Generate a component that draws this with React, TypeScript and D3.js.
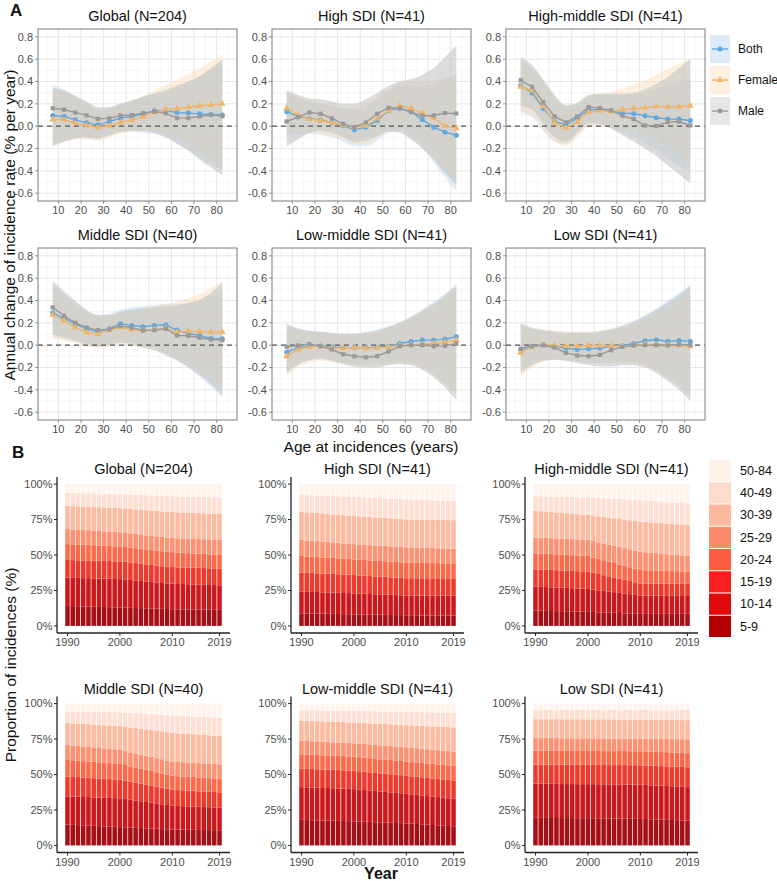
import React from 'react';
import * as d3 from 'd3';

const FONT = '"Liberation Sans", Arial, Helvetica, sans-serif';

// ---------- Panel A data ----------
const AGES = [7.5, 12.5, 17.5, 22.5, 27.5, 32.5, 37.5, 42.5, 47.5, 52.5, 57.5, 62.5, 67.5, 72.5, 77.5, 82.5];
const REGIONS = ['Global (N=204)', 'High SDI (N=41)', 'High-middle SDI (N=41)', 'Middle SDI (N=40)', 'Low-middle SDI (N=41)', 'Low SDI (N=41)'];
const SEXES = ['Both', 'Female', 'Male'];
const A_X_TICKS = [10, 20, 30, 40, 50, 60, 70, 80];
const A_X_MINOR = [5, 15, 25, 35, 45, 55, 65, 75, 85];
const A_Y_TICKS = [-0.6, -0.4, -0.2, 0, 0.2, 0.4, 0.6, 0.8];
const A_Y_MINOR = [-0.5, -0.3, -0.1, 0.1, 0.3, 0.5, 0.7];

const GLOBAL_BOTH = [0.096, 0.087, 0.057, 0.030, 0.012, 0.040, 0.072, 0.087, 0.110, 0.138, 0.138, 0.123, 0.117, 0.110, 0.105, 0.100];
const GLOBAL_FEMALE = [0.060, 0.057, 0.027, 0.006, -0.012, 0.003, 0.033, 0.057, 0.087, 0.123, 0.147, 0.156, 0.170, 0.183, 0.190, 0.200];
const GLOBAL_MALE = [0.160, 0.147, 0.123, 0.096, 0.066, 0.070, 0.096, 0.100, 0.117, 0.130, 0.115, 0.072, 0.072, 0.087, 0.100, 0.090];
const GLOBAL_BOTH_LO = [-0.16, -0.13, -0.11, -0.11, -0.12, -0.09, -0.06, -0.05, -0.06, -0.07, -0.10, -0.15, -0.21, -0.28, -0.34, -0.39];
const GLOBAL_BOTH_HI = [0.37, 0.33, 0.27, 0.21, 0.16, 0.17, 0.20, 0.23, 0.27, 0.30, 0.33, 0.37, 0.40, 0.44, 0.50, 0.56];
const GLOBAL_FEMALE_LO = [-0.17, -0.14, -0.12, -0.12, -0.13, -0.10, -0.07, -0.05, -0.04, -0.04, -0.06, -0.10, -0.15, -0.22, -0.30, -0.38];
const GLOBAL_FEMALE_HI = [0.33, 0.30, 0.25, 0.19, 0.14, 0.15, 0.18, 0.22, 0.27, 0.32, 0.37, 0.42, 0.47, 0.52, 0.58, 0.64];
const GLOBAL_MALE_LO = [-0.18, -0.14, -0.11, -0.10, -0.11, -0.08, -0.05, -0.04, -0.04, -0.06, -0.10, -0.16, -0.22, -0.30, -0.37, -0.44];
const GLOBAL_MALE_HI = [0.34, 0.32, 0.27, 0.22, 0.17, 0.17, 0.20, 0.23, 0.26, 0.29, 0.32, 0.36, 0.40, 0.45, 0.52, 0.60];

const HIGH_BOTH = [0.130, 0.087, 0.069, 0.054, 0.033, 0.003, -0.033, -0.009, 0.051, 0.141, 0.160, 0.130, 0.057, -0.009, -0.054, -0.081];
const HIGH_FEMALE = [0.160, 0.100, 0.063, 0.051, 0.033, 0.009, -0.009, 0.003, 0.069, 0.141, 0.183, 0.162, 0.117, 0.072, 0.003, -0.018];
const HIGH_MALE = [0.042, 0.081, 0.123, 0.111, 0.069, 0.021, -0.009, 0.033, 0.111, 0.165, 0.160, 0.126, 0.093, 0.096, 0.117, 0.114];
const HIGH_BOTH_LO = [-0.08, -0.08, -0.07, -0.08, -0.10, -0.14, -0.18, -0.18, -0.13, -0.06, -0.04, -0.10, -0.20, -0.32, -0.46, -0.58];
const HIGH_BOTH_HI = [0.30, 0.25, 0.22, 0.20, 0.18, 0.16, 0.14, 0.17, 0.24, 0.32, 0.36, 0.36, 0.36, 0.38, 0.42, 0.46];
const HIGH_FEMALE_LO = [-0.06, -0.06, -0.06, -0.07, -0.09, -0.12, -0.16, -0.16, -0.11, -0.04, -0.02, -0.07, -0.16, -0.27, -0.38, -0.50];
const HIGH_FEMALE_HI = [0.31, 0.27, 0.23, 0.21, 0.19, 0.17, 0.16, 0.19, 0.26, 0.34, 0.39, 0.40, 0.40, 0.41, 0.43, 0.45];
const HIGH_MALE_LO = [-0.18, -0.12, -0.06, -0.04, -0.06, -0.10, -0.14, -0.13, -0.09, -0.05, -0.06, -0.12, -0.20, -0.30, -0.42, -0.53];
const HIGH_MALE_HI = [0.32, 0.28, 0.25, 0.24, 0.22, 0.20, 0.20, 0.24, 0.30, 0.36, 0.40, 0.42, 0.46, 0.52, 0.62, 0.72];

const HIGHMID_BOTH = [0.364, 0.298, 0.159, 0.042, 0.012, 0.072, 0.147, 0.147, 0.138, 0.117, 0.111, 0.093, 0.075, 0.063, 0.063, 0.051];
const HIGHMID_FEMALE = [0.352, 0.322, 0.177, 0.033, -0.015, 0.039, 0.126, 0.138, 0.132, 0.147, 0.159, 0.165, 0.177, 0.174, 0.174, 0.183];
const HIGHMID_MALE = [0.412, 0.352, 0.213, 0.087, 0.033, 0.087, 0.171, 0.162, 0.141, 0.093, 0.063, 0.006, 0.003, 0.036, 0.042, 0.006];
const HIGHMID_BOTH_LO = [0.13, 0.08, -0.04, -0.14, -0.16, -0.08, 0.01, 0.01, -0.02, -0.06, -0.10, -0.15, -0.21, -0.28, -0.35, -0.43];
const HIGHMID_BOTH_HI = [0.60, 0.52, 0.39, 0.25, 0.18, 0.20, 0.27, 0.28, 0.28, 0.28, 0.29, 0.31, 0.34, 0.37, 0.40, 0.44];
const HIGHMID_FEMALE_LO = [0.12, 0.09, -0.03, -0.14, -0.18, -0.10, -0.01, 0.00, -0.01, -0.02, -0.04, -0.07, -0.12, -0.18, -0.25, -0.32];
const HIGHMID_FEMALE_HI = [0.58, 0.52, 0.40, 0.27, 0.18, 0.20, 0.27, 0.29, 0.31, 0.34, 0.37, 0.41, 0.46, 0.51, 0.56, 0.60];
const HIGHMID_MALE_LO = [0.18, 0.15, 0.02, -0.10, -0.14, -0.06, 0.03, 0.02, -0.02, -0.08, -0.14, -0.20, -0.27, -0.35, -0.43, -0.51];
const HIGHMID_MALE_HI = [0.62, 0.55, 0.42, 0.28, 0.19, 0.21, 0.28, 0.29, 0.29, 0.29, 0.30, 0.33, 0.38, 0.44, 0.52, 0.60];

const MID_BOTH = [0.290, 0.240, 0.190, 0.144, 0.123, 0.147, 0.192, 0.177, 0.165, 0.177, 0.180, 0.135, 0.105, 0.087, 0.060, 0.057];
const MID_FEMALE = [0.272, 0.219, 0.159, 0.114, 0.099, 0.135, 0.159, 0.141, 0.129, 0.141, 0.153, 0.117, 0.126, 0.123, 0.117, 0.117];
const MID_MALE = [0.338, 0.263, 0.200, 0.159, 0.135, 0.141, 0.171, 0.156, 0.132, 0.135, 0.147, 0.087, 0.084, 0.066, 0.051, 0.045];
const MID_BOTH_LO = [0.07, 0.05, 0.03, 0.00, -0.02, 0.00, 0.03, 0.02, 0.00, -0.03, -0.07, -0.13, -0.20, -0.28, -0.37, -0.47];
const MID_BOTH_HI = [0.58, 0.49, 0.40, 0.32, 0.27, 0.28, 0.32, 0.34, 0.35, 0.36, 0.37, 0.37, 0.38, 0.40, 0.44, 0.50];
const MID_FEMALE_LO = [0.06, 0.04, 0.02, -0.01, -0.03, -0.01, 0.01, 0.00, -0.02, -0.04, -0.07, -0.11, -0.16, -0.22, -0.30, -0.38];
const MID_FEMALE_HI = [0.52, 0.44, 0.36, 0.29, 0.25, 0.26, 0.29, 0.31, 0.33, 0.35, 0.37, 0.39, 0.42, 0.46, 0.51, 0.57];
const MID_MALE_LO = [0.10, 0.07, 0.04, 0.01, -0.01, 0.00, 0.02, 0.01, -0.02, -0.05, -0.09, -0.14, -0.20, -0.27, -0.35, -0.45];
const MID_MALE_HI = [0.56, 0.47, 0.39, 0.31, 0.27, 0.27, 0.30, 0.32, 0.33, 0.34, 0.35, 0.36, 0.38, 0.41, 0.47, 0.56];

const LOWMID_BOTH = [-0.063, -0.024, -0.009, -0.006, -0.015, -0.024, -0.024, -0.024, -0.021, -0.009, 0.015, 0.033, 0.045, 0.045, 0.054, 0.075];
const LOWMID_FEMALE = [-0.099, -0.039, -0.015, -0.009, -0.024, -0.027, -0.021, -0.027, -0.024, -0.015, -0.003, 0.003, 0.009, 0.015, 0.027, 0.045];
const LOWMID_MALE = [-0.015, -0.003, 0.009, -0.009, -0.039, -0.081, -0.099, -0.108, -0.099, -0.057, -0.009, 0.0, 0.0, -0.009, -0.006, 0.015];
const LOWMID_BOTH_LO = [-0.26, -0.18, -0.14, -0.13, -0.14, -0.16, -0.17, -0.17, -0.17, -0.16, -0.15, -0.16, -0.20, -0.26, -0.34, -0.44];
const LOWMID_BOTH_HI = [0.18, 0.15, 0.13, 0.12, 0.11, 0.11, 0.11, 0.12, 0.14, 0.17, 0.21, 0.26, 0.32, 0.39, 0.46, 0.55];
const LOWMID_FEMALE_LO = [-0.27, -0.20, -0.16, -0.14, -0.15, -0.17, -0.18, -0.18, -0.18, -0.17, -0.16, -0.17, -0.21, -0.27, -0.35, -0.44];
const LOWMID_FEMALE_HI = [0.16, 0.13, 0.12, 0.11, 0.10, 0.10, 0.10, 0.11, 0.12, 0.15, 0.19, 0.24, 0.29, 0.35, 0.42, 0.50];
const LOWMID_MALE_LO = [-0.24, -0.17, -0.13, -0.12, -0.14, -0.17, -0.19, -0.20, -0.20, -0.18, -0.17, -0.18, -0.22, -0.29, -0.38, -0.49];
const LOWMID_MALE_HI = [0.19, 0.15, 0.13, 0.12, 0.11, 0.10, 0.10, 0.11, 0.13, 0.16, 0.20, 0.25, 0.31, 0.37, 0.45, 0.53];

const LOW_BOTH = [-0.039, -0.009, 0.003, -0.009, -0.027, -0.039, -0.033, -0.027, -0.009, -0.003, 0.015, 0.039, 0.048, 0.036, 0.042, 0.036];
const LOW_FEMALE = [-0.069, -0.015, 0.003, -0.003, -0.009, -0.009, -0.003, -0.003, -0.006, -0.009, -0.003, 0.006, 0.003, 0.003, -0.003, -0.009];
const LOW_MALE = [-0.033, -0.009, -0.003, -0.021, -0.069, -0.093, -0.099, -0.087, -0.045, -0.015, -0.003, 0.0, 0.0, -0.003, 0.006, 0.003];
const LOW_BOTH_LO = [-0.23, -0.17, -0.14, -0.13, -0.14, -0.15, -0.16, -0.16, -0.16, -0.15, -0.15, -0.17, -0.22, -0.29, -0.37, -0.46];
const LOW_BOTH_HI = [0.20, 0.16, 0.14, 0.13, 0.12, 0.12, 0.12, 0.13, 0.15, 0.18, 0.22, 0.27, 0.33, 0.40, 0.47, 0.54];
const LOW_FEMALE_LO = [-0.28, -0.20, -0.15, -0.13, -0.13, -0.14, -0.15, -0.16, -0.16, -0.16, -0.17, -0.19, -0.23, -0.29, -0.36, -0.44];
const LOW_FEMALE_HI = [0.18, 0.15, 0.14, 0.13, 0.12, 0.12, 0.12, 0.13, 0.14, 0.16, 0.19, 0.23, 0.28, 0.33, 0.39, 0.45];
const LOW_MALE_LO = [-0.25, -0.18, -0.14, -0.13, -0.14, -0.16, -0.18, -0.19, -0.19, -0.18, -0.18, -0.20, -0.25, -0.32, -0.40, -0.50];
const LOW_MALE_HI = [0.19, 0.15, 0.13, 0.12, 0.11, 0.11, 0.11, 0.12, 0.14, 0.17, 0.21, 0.26, 0.32, 0.38, 0.45, 0.53];

const A_TABLE = [
  { mean: [GLOBAL_BOTH, GLOBAL_FEMALE, GLOBAL_MALE], lo: [GLOBAL_BOTH_LO, GLOBAL_FEMALE_LO, GLOBAL_MALE_LO], hi: [GLOBAL_BOTH_HI, GLOBAL_FEMALE_HI, GLOBAL_MALE_HI] },
  { mean: [HIGH_BOTH, HIGH_FEMALE, HIGH_MALE], lo: [HIGH_BOTH_LO, HIGH_FEMALE_LO, HIGH_MALE_LO], hi: [HIGH_BOTH_HI, HIGH_FEMALE_HI, HIGH_MALE_HI] },
  { mean: [HIGHMID_BOTH, HIGHMID_FEMALE, HIGHMID_MALE], lo: [HIGHMID_BOTH_LO, HIGHMID_FEMALE_LO, HIGHMID_MALE_LO], hi: [HIGHMID_BOTH_HI, HIGHMID_FEMALE_HI, HIGHMID_MALE_HI] },
  { mean: [MID_BOTH, MID_FEMALE, MID_MALE], lo: [MID_BOTH_LO, MID_FEMALE_LO, MID_MALE_LO], hi: [MID_BOTH_HI, MID_FEMALE_HI, MID_MALE_HI] },
  { mean: [LOWMID_BOTH, LOWMID_FEMALE, LOWMID_MALE], lo: [LOWMID_BOTH_LO, LOWMID_FEMALE_LO, LOWMID_MALE_LO], hi: [LOWMID_BOTH_HI, LOWMID_FEMALE_HI, LOWMID_MALE_HI] },
  { mean: [LOW_BOTH, LOW_FEMALE, LOW_MALE], lo: [LOW_BOTH_LO, LOW_FEMALE_LO, LOW_MALE_LO], hi: [LOW_BOTH_HI, LOW_FEMALE_HI, LOW_MALE_HI] },
];

// ---------- Panel B data ----------
const YEARS = [1990, 1991, 1992, 1993, 1994, 1995, 1996, 1997, 1998, 1999, 2000, 2001, 2002, 2003, 2004, 2005, 2006, 2007, 2008, 2009, 2010, 2011, 2012, 2013, 2014, 2015, 2016, 2017, 2018, 2019];
const B_X_TICKS = [1990, 2000, 2010, 2019];
const B_Y_TICKS = [0, 0.25, 0.5, 0.75, 1];
const AGE_GROUPS = ['5-9', '10-14', '15-19', '20-24', '25-29', '30-39', '40-49', '50-84'];

// share (%) of incidences by age group (rows) and year (columns)
const B_GLOBAL = [
  [14.1, 14.0, 13.9, 13.8, 13.7, 13.6, 13.4, 13.3, 13.2, 13.1, 13.0, 12.9, 12.8, 12.6, 12.5, 12.4, 12.3, 12.2, 12.0, 11.9, 11.8, 11.7, 11.7, 11.6, 11.6, 11.5, 11.5, 11.4, 11.4, 11.3],
  [19.9, 19.9, 19.9, 19.9, 20.0, 20.0, 20.0, 20.0, 20.0, 20.0, 20.0, 19.9, 19.7, 19.4, 19.1, 18.9, 18.6, 18.4, 18.2, 18.1, 18.0, 17.9, 17.8, 17.8, 17.7, 17.6, 17.5, 17.5, 17.4, 17.3],
  [12.5, 12.5, 12.5, 12.5, 12.5, 12.5, 12.5, 12.5, 12.5, 12.5, 12.5, 12.4, 12.4, 12.3, 12.2, 12.1, 12.0, 11.9, 11.8, 11.8, 11.7, 11.7, 11.7, 11.7, 11.7, 11.8, 11.8, 11.8, 11.8, 11.8],
  [11.2, 11.1, 11.1, 11.0, 10.9, 10.9, 10.8, 10.7, 10.6, 10.6, 10.5, 10.5, 10.5, 10.5, 10.5, 10.5, 10.5, 10.5, 10.5, 10.5, 10.5, 10.4, 10.3, 10.2, 10.1, 10.0, 9.9, 9.8, 9.7, 9.6],
  [10.6, 10.5, 10.5, 10.4, 10.4, 10.3, 10.2, 10.2, 10.1, 10.1, 10.0, 10.0, 10.0, 10.0, 10.0, 10.0, 10.0, 10.0, 10.0, 10.0, 10.0, 10.1, 10.1, 10.2, 10.3, 10.3, 10.4, 10.5, 10.5, 10.6],
  [16.4, 16.5, 16.5, 16.6, 16.6, 16.7, 16.8, 16.8, 16.9, 16.9, 17.0, 17.1, 17.3, 17.4, 17.5, 17.7, 17.8, 17.9, 18.0, 18.2, 18.3, 18.3, 18.3, 18.3, 18.3, 18.3, 18.3, 18.3, 18.3, 18.3],
  [9.2, 9.3, 9.4, 9.4, 9.5, 9.6, 9.7, 9.8, 9.8, 9.9, 10.0, 10.1, 10.2, 10.3, 10.4, 10.6, 10.7, 10.8, 10.9, 11.0, 11.1, 11.2, 11.2, 11.3, 11.4, 11.4, 11.5, 11.6, 11.6, 11.7],
  [6.1, 6.2, 6.3, 6.4, 6.4, 6.5, 6.6, 6.7, 6.8, 6.9, 7.0, 7.2, 7.3, 7.5, 7.6, 7.8, 8.0, 8.1, 8.3, 8.4, 8.6, 8.7, 8.8, 8.9, 9.0, 9.0, 9.1, 9.2, 9.3, 9.4],
];
const B_HIGH = [
  [8.9, 8.8, 8.8, 8.7, 8.6, 8.6, 8.5, 8.4, 8.3, 8.3, 8.2, 8.1, 8.1, 8.0, 7.9, 7.9, 7.8, 7.7, 7.6, 7.6, 7.5, 7.5, 7.5, 7.4, 7.4, 7.4, 7.4, 7.3, 7.3, 7.3],
  [15.3, 15.2, 15.2, 15.2, 15.1, 15.1, 15.0, 15.0, 14.9, 14.9, 14.8, 14.7, 14.6, 14.5, 14.4, 14.4, 14.3, 14.2, 14.1, 14.0, 13.9, 13.9, 13.9, 14.0, 14.0, 14.0, 14.0, 14.1, 14.1, 14.1],
  [13.4, 13.3, 13.3, 13.2, 13.2, 13.2, 13.1, 13.1, 13.0, 13.0, 12.9, 12.8, 12.8, 12.7, 12.6, 12.6, 12.5, 12.4, 12.3, 12.3, 12.2, 12.2, 12.2, 12.2, 12.2, 12.2, 12.2, 12.2, 12.2, 12.2],
  [11.7, 11.6, 11.6, 11.5, 11.4, 11.4, 11.3, 11.2, 11.1, 11.1, 11.0, 11.0, 11.0, 11.0, 11.0, 11.0, 11.0, 11.0, 11.0, 11.0, 11.0, 10.9, 10.9, 10.8, 10.8, 10.7, 10.7, 10.6, 10.6, 10.5],
  [11.3, 11.2, 11.2, 11.2, 11.1, 11.1, 11.0, 11.0, 10.9, 10.9, 10.8, 10.8, 10.8, 10.8, 10.8, 10.8, 10.8, 10.8, 10.8, 10.8, 10.8, 10.8, 10.7, 10.7, 10.6, 10.6, 10.5, 10.5, 10.4, 10.4],
  [19.9, 19.9, 19.9, 19.9, 19.9, 19.9, 19.8, 19.8, 19.8, 19.8, 19.8, 19.8, 19.8, 19.8, 19.8, 19.8, 19.7, 19.7, 19.7, 19.7, 19.7, 19.7, 19.8, 19.8, 19.9, 19.9, 20.0, 20.0, 20.1, 20.1],
  [11.8, 12.0, 12.2, 12.3, 12.5, 12.7, 12.9, 13.1, 13.2, 13.4, 13.6, 13.7, 13.7, 13.8, 13.8, 13.9, 13.9, 14.0, 14.0, 14.1, 14.1, 14.0, 13.9, 13.9, 13.8, 13.7, 13.6, 13.6, 13.5, 13.4],
  [7.7, 7.8, 7.9, 8.1, 8.2, 8.3, 8.4, 8.5, 8.7, 8.8, 8.9, 9.1, 9.3, 9.5, 9.7, 9.9, 10.0, 10.2, 10.4, 10.6, 10.8, 10.9, 11.1, 11.2, 11.3, 11.5, 11.6, 11.7, 11.9, 12.0],
];
const B_HIGHMID = [
  [10.8, 10.7, 10.6, 10.5, 10.4, 10.4, 10.3, 10.2, 10.1, 10.0, 9.9, 9.8, 9.6, 9.5, 9.3, 9.2, 9.1, 8.9, 8.8, 8.6, 8.5, 8.5, 8.5, 8.5, 8.5, 8.5, 8.5, 8.5, 8.5, 8.5],
  [16.9, 16.8, 16.8, 16.7, 16.6, 16.6, 16.5, 16.4, 16.3, 16.3, 16.2, 15.9, 15.5, 15.2, 14.9, 14.6, 14.2, 13.9, 13.6, 13.2, 12.9, 12.9, 12.8, 12.8, 12.8, 12.7, 12.7, 12.7, 12.6, 12.6],
  [12.2, 12.2, 12.2, 12.2, 12.2, 12.2, 12.2, 12.2, 12.2, 12.2, 12.2, 11.8, 11.5, 11.1, 10.8, 10.4, 10.0, 9.7, 9.3, 9.0, 8.6, 8.6, 8.6, 8.6, 8.6, 8.6, 8.5, 8.5, 8.5, 8.5],
  [11.3, 11.3, 11.2, 11.2, 11.2, 11.2, 11.1, 11.1, 11.1, 11.0, 11.0, 10.8, 10.7, 10.5, 10.4, 10.2, 10.0, 9.9, 9.7, 9.6, 9.4, 9.3, 9.3, 9.2, 9.1, 9.0, 8.9, 8.9, 8.8, 8.7],
  [11.2, 11.2, 11.2, 11.2, 11.2, 11.2, 11.3, 11.3, 11.3, 11.3, 11.3, 11.5, 11.6, 11.8, 12.0, 12.1, 12.3, 12.4, 12.6, 12.7, 12.9, 12.7, 12.5, 12.3, 12.1, 11.9, 11.6, 11.4, 11.2, 11.0],
  [18.8, 18.7, 18.6, 18.4, 18.3, 18.2, 18.1, 18.0, 17.8, 17.7, 17.6, 18.0, 18.3, 18.7, 19.0, 19.4, 19.8, 20.1, 20.5, 20.8, 21.2, 21.3, 21.3, 21.4, 21.5, 21.5, 21.6, 21.7, 21.7, 21.8],
  [10.3, 10.5, 10.7, 10.9, 11.1, 11.4, 11.6, 11.8, 12.0, 12.2, 12.4, 12.7, 13.0, 13.2, 13.5, 13.8, 14.1, 14.4, 14.6, 14.9, 15.2, 15.2, 15.2, 15.2, 15.2, 15.3, 15.3, 15.3, 15.3, 15.3],
  [8.5, 8.6, 8.7, 8.8, 8.9, 9.0, 9.0, 9.1, 9.2, 9.3, 9.4, 9.6, 9.8, 10.0, 10.2, 10.4, 10.5, 10.7, 10.9, 11.1, 11.3, 11.6, 11.8, 12.1, 12.3, 12.6, 12.8, 13.1, 13.3, 13.6],
];
const B_MID = [
  [14.7, 14.5, 14.3, 14.2, 14.0, 13.8, 13.6, 13.4, 13.3, 13.1, 12.9, 12.7, 12.6, 12.4, 12.2, 12.1, 11.9, 11.7, 11.5, 11.4, 11.2, 11.1, 11.1, 11.0, 11.0, 10.9, 10.9, 10.8, 10.8, 10.7],
  [19.9, 19.9, 20.0, 20.0, 20.1, 20.1, 20.1, 20.2, 20.2, 20.3, 20.3, 20.0, 19.6, 19.3, 18.9, 18.6, 18.2, 17.9, 17.5, 17.2, 16.8, 16.7, 16.6, 16.5, 16.4, 16.3, 16.2, 16.1, 16.0, 15.9],
  [14.0, 13.9, 13.8, 13.7, 13.6, 13.6, 13.5, 13.4, 13.3, 13.2, 13.1, 12.9, 12.7, 12.6, 12.4, 12.2, 12.0, 11.8, 11.7, 11.5, 11.3, 11.2, 11.2, 11.1, 11.1, 11.0, 11.0, 10.9, 10.9, 10.8],
  [11.7, 11.7, 11.6, 11.6, 11.5, 11.5, 11.4, 11.4, 11.3, 11.3, 11.2, 11.1, 10.9, 10.8, 10.6, 10.5, 10.4, 10.2, 10.1, 9.9, 9.8, 9.8, 9.8, 9.7, 9.7, 9.7, 9.7, 9.6, 9.6, 9.6],
  [10.5, 10.4, 10.4, 10.3, 10.2, 10.2, 10.1, 10.0, 9.9, 9.9, 9.8, 9.8, 9.8, 9.9, 9.9, 9.9, 9.9, 9.9, 10.0, 10.0, 10.0, 10.0, 10.0, 10.1, 10.1, 10.1, 10.1, 10.2, 10.2, 10.2],
  [15.6, 15.7, 15.8, 16.0, 16.1, 16.2, 16.3, 16.4, 16.6, 16.7, 16.8, 17.2, 17.5, 17.9, 18.2, 18.6, 18.9, 19.3, 19.6, 20.0, 20.3, 20.3, 20.2, 20.2, 20.1, 20.1, 20.1, 20.0, 20.0, 19.9],
  [8.2, 8.4, 8.5, 8.7, 8.8, 9.0, 9.2, 9.3, 9.5, 9.6, 9.8, 10.0, 10.3, 10.5, 10.8, 11.0, 11.2, 11.5, 11.7, 12.0, 12.2, 12.3, 12.4, 12.4, 12.5, 12.6, 12.7, 12.7, 12.8, 12.9],
  [5.4, 5.5, 5.5, 5.6, 5.7, 5.8, 5.8, 5.9, 6.0, 6.0, 6.1, 6.3, 6.6, 6.8, 7.0, 7.3, 7.5, 7.7, 7.9, 8.2, 8.4, 8.6, 8.8, 8.9, 9.1, 9.3, 9.5, 9.6, 9.8, 10.0],
];
const B_LOWMID = [
  [18.0, 17.9, 17.8, 17.7, 17.6, 17.5, 17.4, 17.3, 17.2, 17.1, 17.0, 16.9, 16.7, 16.6, 16.4, 16.3, 16.1, 16.0, 15.8, 15.7, 15.5, 15.3, 15.1, 14.9, 14.6, 14.4, 14.2, 13.9, 13.7, 13.5],
  [23.1, 23.1, 23.0, 23.0, 22.9, 22.9, 22.9, 22.8, 22.8, 22.7, 22.7, 22.5, 22.3, 22.2, 22.0, 21.8, 21.6, 21.4, 21.3, 21.1, 20.9, 20.7, 20.6, 20.4, 20.2, 20.1, 19.9, 19.7, 19.6, 19.4],
  [13.1, 13.1, 13.1, 13.0, 13.0, 13.0, 13.0, 13.0, 12.9, 12.9, 12.9, 12.9, 12.9, 12.8, 12.8, 12.8, 12.8, 12.8, 12.7, 12.7, 12.7, 12.7, 12.7, 12.8, 12.8, 12.8, 12.8, 12.9, 12.9, 12.9],
  [10.1, 10.1, 10.1, 10.1, 10.1, 10.0, 10.0, 10.0, 10.0, 10.0, 10.0, 10.0, 10.0, 10.0, 10.0, 10.0, 10.0, 10.0, 10.0, 10.0, 10.0, 10.0, 10.1, 10.1, 10.1, 10.2, 10.2, 10.2, 10.3, 10.3],
  [9.5, 9.5, 9.5, 9.5, 9.5, 9.4, 9.4, 9.4, 9.4, 9.4, 9.4, 9.5, 9.5, 9.6, 9.7, 9.8, 9.8, 9.9, 10.0, 10.0, 10.1, 10.1, 10.1, 10.1, 10.1, 10.0, 10.0, 10.0, 10.0, 10.0],
  [14.1, 14.2, 14.2, 14.3, 14.3, 14.4, 14.5, 14.5, 14.6, 14.6, 14.7, 14.8, 14.9, 15.0, 15.1, 15.2, 15.2, 15.3, 15.4, 15.5, 15.6, 15.8, 15.9, 16.1, 16.3, 16.4, 16.6, 16.8, 16.9, 17.1],
  [7.4, 7.5, 7.6, 7.6, 7.7, 7.8, 7.9, 8.0, 8.0, 8.1, 8.2, 8.3, 8.4, 8.6, 8.7, 8.8, 8.9, 9.0, 9.2, 9.3, 9.4, 9.5, 9.6, 9.7, 9.8, 9.9, 10.0, 10.1, 10.2, 10.3],
  [4.7, 4.7, 4.8, 4.8, 4.9, 4.9, 4.9, 5.0, 5.0, 5.1, 5.1, 5.2, 5.2, 5.3, 5.4, 5.5, 5.5, 5.6, 5.7, 5.7, 5.8, 5.9, 6.0, 6.0, 6.1, 6.2, 6.3, 6.3, 6.4, 6.5],
];
const B_LOW = [
  [19.4, 19.4, 19.4, 19.3, 19.3, 19.3, 19.3, 19.3, 19.2, 19.2, 19.2, 19.2, 19.1, 19.1, 19.0, 19.0, 18.9, 18.9, 18.8, 18.8, 18.7, 18.6, 18.4, 18.3, 18.2, 18.0, 17.9, 17.8, 17.6, 17.5],
  [24.1, 24.1, 24.1, 24.1, 24.1, 24.0, 24.0, 24.0, 24.0, 24.0, 24.0, 24.0, 24.0, 24.0, 24.0, 24.0, 24.1, 24.1, 24.1, 24.1, 24.1, 24.0, 24.0, 23.9, 23.9, 23.8, 23.8, 23.7, 23.7, 23.6],
  [13.5, 13.5, 13.5, 13.5, 13.5, 13.6, 13.6, 13.6, 13.6, 13.6, 13.6, 13.6, 13.6, 13.6, 13.6, 13.6, 13.7, 13.7, 13.7, 13.7, 13.7, 13.7, 13.8, 13.8, 13.8, 13.9, 13.9, 13.9, 14.0, 14.0],
  [9.8, 9.8, 9.8, 9.8, 9.8, 9.8, 9.8, 9.8, 9.8, 9.8, 9.8, 9.8, 9.8, 9.8, 9.8, 9.8, 9.9, 9.9, 9.9, 9.9, 9.9, 9.9, 9.9, 9.9, 9.9, 9.9, 9.9, 9.9, 9.9, 9.9],
  [8.9, 8.9, 8.9, 8.9, 8.9, 8.9, 8.9, 8.9, 8.9, 8.9, 8.9, 8.9, 8.9, 8.9, 8.9, 8.9, 8.8, 8.8, 8.8, 8.8, 8.8, 8.9, 9.0, 9.1, 9.2, 9.3, 9.4, 9.5, 9.7, 9.8],
  [13.3, 13.3, 13.3, 13.3, 13.3, 13.4, 13.4, 13.4, 13.4, 13.4, 13.4, 13.4, 13.4, 13.5, 13.5, 13.5, 13.5, 13.5, 13.6, 13.6, 13.6, 13.6, 13.6, 13.6, 13.6, 13.5, 13.5, 13.5, 13.5, 13.5],
  [6.8, 6.8, 6.8, 6.8, 6.8, 6.9, 6.9, 6.9, 6.9, 6.9, 6.9, 6.9, 6.9, 6.9, 6.9, 6.9, 7.0, 7.0, 7.0, 7.0, 7.0, 7.0, 7.1, 7.1, 7.2, 7.2, 7.3, 7.4, 7.4, 7.5],
  [4.2, 4.2, 4.2, 4.2, 4.2, 4.2, 4.2, 4.2, 4.2, 4.2, 4.2, 4.2, 4.2, 4.2, 4.2, 4.2, 4.2, 4.2, 4.2, 4.2, 4.2, 4.2, 4.2, 4.2, 4.2, 4.2, 4.2, 4.2, 4.2, 4.2],
];
const B_TABLE = [B_GLOBAL, B_HIGH, B_HIGHMID, B_MID, B_LOWMID, B_LOW];

// ---------- styles ----------
const SEX_COLORS = ['#62a8dc', '#f0b56a', '#999999'];
const RIBBON_FILL = ['#c6dcef', '#fbd9b0', '#c4c4c4'];
const RIBBON_OPACITY = [0.5, 0.4, 0.6];
const KEY_BG = ['#dcebf7', '#fdf0e1', '#e6e6e6'];
const BAR_COLORS = ['#a50f15', '#cb181d', '#ec3a2c', '#fb6a4a', '#fc9272', '#fcbba1', '#fee0d2', '#fff3ee'];
const KEY_COLORS = ['#b00000', '#df0a0a', '#fd2020', '#fb5b3f', '#fc8b6c', '#fcb9a0', '#fddccc', '#fff1ea'];

// layout
const A_COLS = [38, 272, 506];
const A_ROWS = [29, 248];
const A_W = 199;
const A_H = 172;
const B_COLS = [57, 291, 525];
const B_ROWS = [477, 696.5];
const B_W = 173;
const B_H = 156;

const xA = d3.scaleLinear().domain([1, 89]).range([0, A_W]);
const yA = d3.scaleLinear().domain([-0.67, 0.87]).range([A_H, 0]);
const xB = d3.scaleLinear().domain([1988, 2021]).range([0, B_W]);
const yB = d3.scaleLinear().domain([-0.05, 1.05]).range([B_H, 0]);

const SYMBOLS = [d3.symbolCircle, d3.symbolTriangle, d3.symbolSquare];
const SYMBOL_SIZE = [20, 20, 18];

function PanelA({ idx }: { idx: number }) {
  const x0 = A_COLS[idx % 3];
  const y0 = A_ROWS[Math.floor(idx / 3)];
  const d = A_TABLE[idx];
  const area = d3
    .area<number>()
    .x((_, i) => xA(AGES[i]))
    .curve(d3.curveMonotoneX);
  const line = d3
    .line<number>()
    .x((_, i) => xA(AGES[i]))
    .y((v) => yA(v));
  return (
    <g transform={`translate(${x0},${y0})`}>
      <rect width={A_W} height={A_H} fill="#fff" />
      {A_X_MINOR.map((t) => (
        <line key={'xm' + t} x1={xA(t)} x2={xA(t)} y1={0} y2={A_H} stroke="#f0f0f0" strokeWidth={0.6} />
      ))}
      {A_Y_MINOR.map((t) => (
        <line key={'ym' + t} y1={yA(t)} y2={yA(t)} x1={0} x2={A_W} stroke="#f0f0f0" strokeWidth={0.6} />
      ))}
      {A_X_TICKS.map((t) => (
        <line key={'x' + t} x1={xA(t)} x2={xA(t)} y1={0} y2={A_H} stroke="#e3e3e3" strokeWidth={0.9} />
      ))}
      {A_Y_TICKS.map((t) => (
        <line key={'y' + t} y1={yA(t)} y2={yA(t)} x1={0} x2={A_W} stroke="#e3e3e3" strokeWidth={0.9} />
      ))}
      {SEXES.map((s, k) => (
        <path
          key={'rib' + s}
          d={area.y0((_, i) => yA(d.lo[k][i])).y1((_, i) => yA(d.hi[k][i]))(AGES) || ''}
          fill={RIBBON_FILL[k]}
          fillOpacity={RIBBON_OPACITY[k]}
        />
      ))}
      <line x1={0} x2={A_W} y1={yA(0)} y2={yA(0)} stroke="#555" strokeWidth={1.1} strokeDasharray="5,4" />
      {SEXES.map((s, k) => (
        <g key={'ln' + s}>
          <path d={line(d.mean[k]) || ''} fill="none" stroke={SEX_COLORS[k]} strokeWidth={1.4} />
          {d.mean[k].map((v, i) => (
            <path
              key={i}
              transform={`translate(${xA(AGES[i])},${yA(v)})`}
              d={d3.symbol().type(SYMBOLS[k]).size(SYMBOL_SIZE[k])() || ''}
              fill={SEX_COLORS[k]}
            />
          ))}
        </g>
      ))}
      <rect width={A_W} height={A_H} fill="none" stroke="#7a7a7a" strokeWidth={1} />
      {A_Y_TICKS.map((t) => (
        <g key={'yt' + t}>
          <line x1={-3} x2={0} y1={yA(t)} y2={yA(t)} stroke="#7a7a7a" strokeWidth={0.8} />
          <text x={-5} y={yA(t)} dy="0.35em" textAnchor="end" fontSize={11} fill="#4d4d4d">
            {t.toFixed(1)}
          </text>
        </g>
      ))}
      {A_X_TICKS.map((t) => (
        <g key={'xt' + t}>
          <line x1={xA(t)} x2={xA(t)} y1={A_H} y2={A_H + 3} stroke="#7a7a7a" strokeWidth={0.8} />
          <text x={xA(t)} y={A_H + 13} textAnchor="middle" fontSize={11} fill="#4d4d4d">
            {t}
          </text>
        </g>
      ))}
      <text x={A_W / 2} y={-8.5} textAnchor="middle" fontSize={14.5} fill="#111">
        {REGIONS[idx]}
      </text>
    </g>
  );
}

function PanelB({ idx }: { idx: number }) {
  const x0 = B_COLS[idx % 3];
  const y0 = B_ROWS[Math.floor(idx / 3)];
  const data = B_TABLE[idx];
  const rows = YEARS.map((yr, i) => {
    const o: any = { year: yr };
    AGE_GROUPS.forEach((g, k) => {
      o[g] = data[k][i];
    });
    return o;
  });
  const series = d3.stack<any>().keys(AGE_GROUPS).offset(d3.stackOffsetExpand)(rows);
  const bw = (xB(1) - xB(0)) * 0.86;
  return (
    <g transform={`translate(${x0},${y0})`}>
      {series.map((s, k) => (
        <g key={s.key} fill={BAR_COLORS[k]}>
          {s.map((seg, i) => (
            <rect
              key={i}
              x={xB(YEARS[i]) - bw / 2}
              width={bw}
              y={yB(seg[1])}
              height={Math.max(0, yB(seg[0]) - yB(seg[1]))}
            />
          ))}
        </g>
      ))}
      <line x1={0} x2={0} y1={0} y2={B_H} stroke="#222" strokeWidth={1.3} />
      <line x1={0} x2={B_W} y1={B_H} y2={B_H} stroke="#222" strokeWidth={1.3} />
      {B_Y_TICKS.map((t) => (
        <g key={'yt' + t}>
          <line x1={-3} x2={0} y1={yB(t)} y2={yB(t)} stroke="#222" strokeWidth={1} />
          <text x={-4.5} y={yB(t)} dy="0.35em" textAnchor="end" fontSize={11} fill="#4d4d4d">
            {Math.round(t * 100) + '%'}
          </text>
        </g>
      ))}
      {B_X_TICKS.map((t) => (
        <g key={'xt' + t}>
          <line x1={xB(t)} x2={xB(t)} y1={B_H} y2={B_H + 3} stroke="#222" strokeWidth={1} />
          <text x={xB(t)} y={B_H + 13} textAnchor="middle" fontSize={11} fill="#4d4d4d">
            {t}
          </text>
        </g>
      ))}
      <text x={B_W / 2} y={-3} textAnchor="middle" fontSize={14.5} fill="#111">
        {REGIONS[idx]}
      </text>
    </g>
  );
}

export default function App() {
  return (
    <svg
      width={777}
      height={881}
      style={{ position: 'absolute', left: 0, top: 0, fontFamily: FONT }}
      fontFamily={FONT}
    >
      <rect width={777} height={881} fill="#fff" />
      <text x={10} y={16} fontSize={17} fontWeight="bold" fill="#111">A</text>
      <text x={12} y={458} fontSize={17} fontWeight="bold" fill="#111">B</text>

      {REGIONS.map((r, i) => (
        <PanelA key={'a' + r} idx={i} />
      ))}

      {/* Legend A */}
      {SEXES.map((s, k) => {
        const ky = 35 + k * 31;
        return (
          <g key={'lg' + s} transform={`translate(710,${ky})`}>
            <rect width={20} height={28} fill={KEY_BG[k]} />
            <line x1={2} x2={18} y1={14} y2={14} stroke={SEX_COLORS[k]} strokeWidth={1.4} />
            <path transform="translate(10,14)" d={d3.symbol().type(SYMBOLS[k]).size(SYMBOL_SIZE[k])() || ''} fill={SEX_COLORS[k]} />
            <text x={28} y={14} dy="0.35em" fontSize={12} fill="#111">
              {s}
            </text>
          </g>
        );
      })}

      <text
        transform="translate(15,225) rotate(-90)"
        textAnchor="middle"
        fontSize={15.5}
        fill="#111"
      >
        Annual change of incidence rate (% per year)
      </text>
      <text x={371} y={452} textAnchor="middle" fontSize={15.5} fill="#111">
        Age at incidences (years)
      </text>

      {REGIONS.map((r, i) => (
        <PanelB key={'b' + r} idx={i} />
      ))}

      {/* Legend B */}
      {AGE_GROUPS.slice()
        .reverse()
        .map((g, j) => {
          const k = AGE_GROUPS.length - 1 - j;
          const ky = 460 + j * 22.25;
          return (
            <g key={'lb' + g} transform={`translate(709,${ky})`}>
              <rect width={22} height={21.25} fill={KEY_COLORS[k]} />
              <text x={31} y={10.6} dy="0.35em" fontSize={12.5} fill="#111">
                {g}
              </text>
            </g>
          );
        })}

      <text
        transform="translate(16,665) rotate(-90)"
        textAnchor="middle"
        fontSize={15.5}
        fill="#111"
      >
        Proportion of incidences (%)
      </text>
      <text x={381} y={879} textAnchor="middle" fontSize={16} fontWeight="bold" fill="#111">
        Year
      </text>
    </svg>
  );
}
